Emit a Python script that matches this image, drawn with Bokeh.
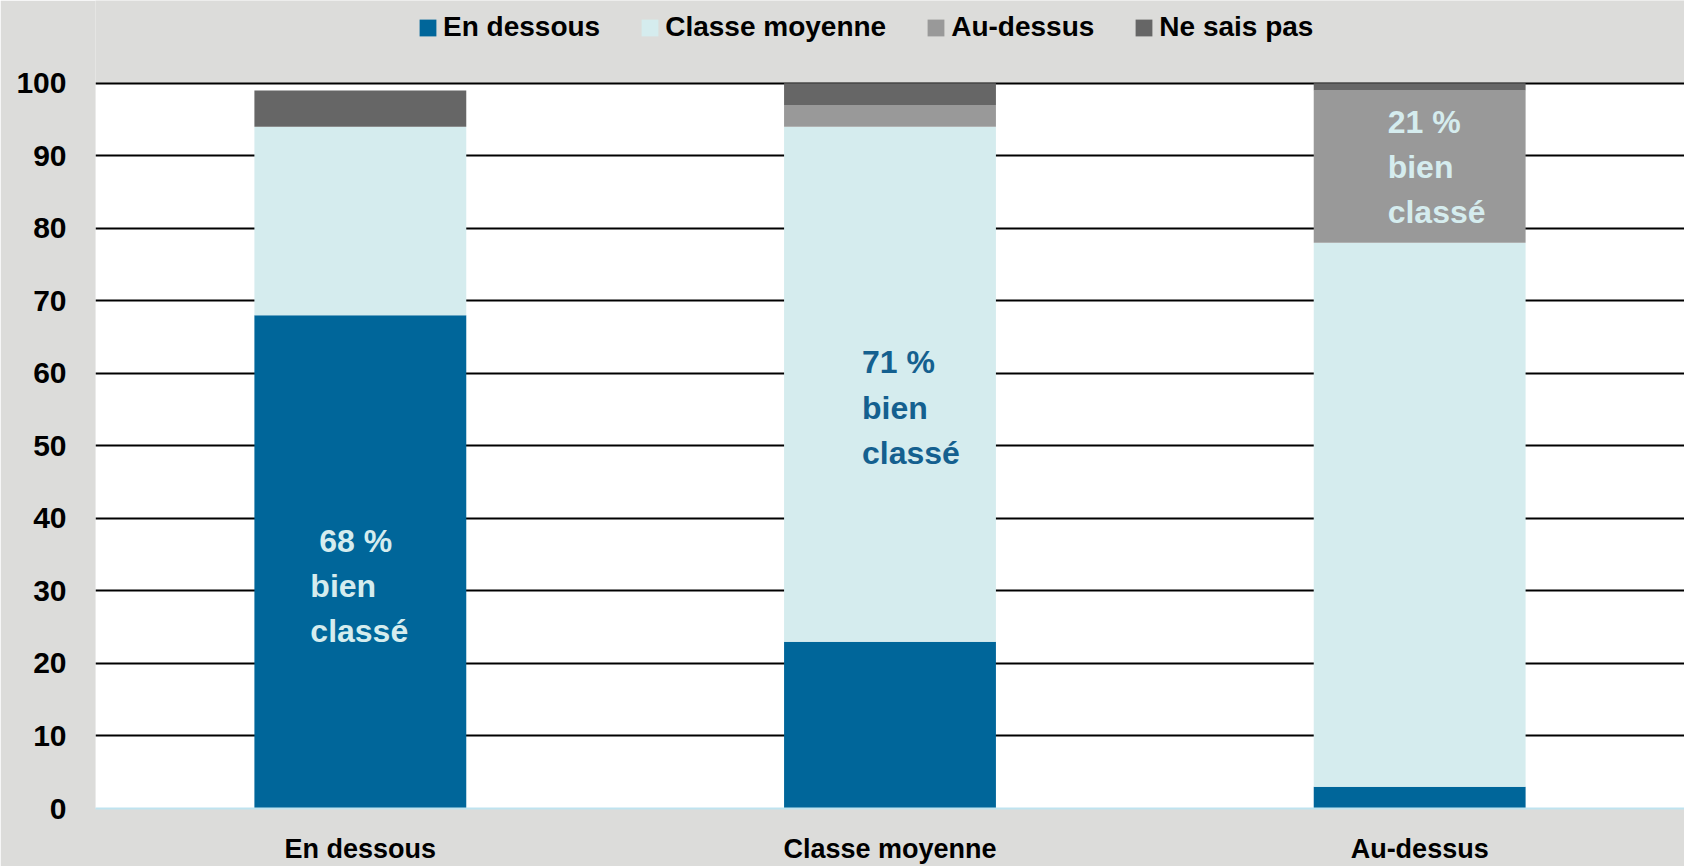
from bokeh.plotting import figure
from bokeh.models import (Legend, LegendItem, FixedTicker, ColumnDataSource, Range1d,
                          FactorRange, BoxAnnotation)
from bokeh.core.properties import value
from bokeh.embed import file_html
from bokeh.resources import INLINE

# ---- data ----
categories = ["En dessous", "Classe moyenne", "Au-dessus"]
series_labels = ["En dessous", "Classe moyenne", "Au-dessus", "Ne sais pas"]
en_dessous = [68, 23, 3]
classe_moyenne = [26, 71, 75]
au_dessus = [0, 3, 21]
ne_sais_pas = [5, 3, 1]
y_ticks = [0, 10, 20, 30, 40, 50, 60, 70, 80, 90, 100]
annot_text = ["\u00a068 %\nbien\nclassé", "71 %\nbien\nclassé", "21 %\nbien\nclassé"]

# ---- styling / placement (not data) ----
colors = ["#00669A", "#D5ECEE", "#999999", "#666666"]
annot_top = [39.4, 64.0, 97.2]
annot_dx = [-50, -28, -32]
annot_color = ["#D5ECEE", "#14608F", "#D5ECEE"]
BG = "#DCDCDA"
FONT = "Liberation Sans"
PX_PER_UNIT = 7.27
Y_TOP = 100 + 83 / PX_PER_UNIT  # grey band above the 100 line holds the legend

src = ColumnDataSource(dict(
    cat=categories,
    en_dessous=en_dessous,
    classe_moyenne=classe_moyenne,
    au_dessus=au_dessus,
    ne_sais_pas=ne_sais_pas,
))

p = figure(
    width=1684, height=866,
    x_range=FactorRange(*categories, range_padding=0),
    y_range=Range1d(0, Y_TOP),
    output_backend="svg", toolbar_location=None,
    min_border_left=95, min_border_right=0, min_border_top=0, min_border_bottom=56,
)
p.border_fill_color = BG
p.background_fill_color = BG
p.outline_line_color = None

# white plotting area from 0 to 100
p.add_layout(BoxAnnotation(bottom=0, top=100, fill_color="white", fill_alpha=1,
                           line_color=None, level="image"))

keys = ["en_dessous", "classe_moyenne", "au_dessus", "ne_sais_pas"]
rs = p.vbar_stack(keys, x="cat", width=0.4, color=colors, line_color=None, source=src)

# annotations
asrc = ColumnDataSource(dict(x=categories, y=annot_top, text=annot_text, dx=annot_dx, c=annot_color))
p.text(x="x", y="y", text="text", x_offset="dx", text_color="c", source=asrc,
       text_align="left", text_baseline="top", text_font=value(FONT),
       text_font_size="32px", text_font_style="bold", text_line_height=1.26)

# grid
p.xgrid.grid_line_color = None
p.ygrid.ticker = FixedTicker(ticks=y_ticks[1:])
p.ygrid.grid_line_color = "black"
p.ygrid.grid_line_width = 2

# axes
p.yaxis.ticker = FixedTicker(ticks=y_ticks)
p.yaxis.axis_line_color = None
p.yaxis.major_tick_line_color = None
p.yaxis.major_tick_out = 0
p.yaxis.major_tick_in = 0
p.yaxis.minor_tick_line_color = None
p.yaxis.minor_tick_out = 0
p.yaxis.major_label_text_font = FONT
p.yaxis.major_label_text_font_size = "30px"
p.yaxis.major_label_text_font_style = "bold"
p.yaxis.major_label_text_color = "black"
p.yaxis.major_label_standoff = 29

p.xaxis.axis_line_color = "#BFE3EF"
p.xaxis.axis_line_width = 2
p.xaxis.major_tick_line_color = None
p.xaxis.major_tick_out = 0
p.xaxis.major_tick_in = 0
p.xaxis.major_label_text_font = FONT
p.xaxis.major_label_text_font_size = "27px"
p.xaxis.major_label_text_font_style = "bold"
p.xaxis.major_label_text_color = "black"
p.xaxis.major_label_standoff = 25

legend = Legend(
    items=[LegendItem(label=lab, renderers=[r]) for lab, r in zip(series_labels, rs)],
    orientation="horizontal", location=(322, 765),
    padding=0, margin=0, spacing=39, label_standoff=5,
    glyph_width=21, glyph_height=21, label_height=30,
    label_text_font=FONT, label_text_font_size="28px", label_text_font_style="bold",
    label_text_color="black",
    background_fill_alpha=0, border_line_alpha=0,
)
p.add_layout(legend)

open("out.html", "w").write(file_html(p, INLINE))
